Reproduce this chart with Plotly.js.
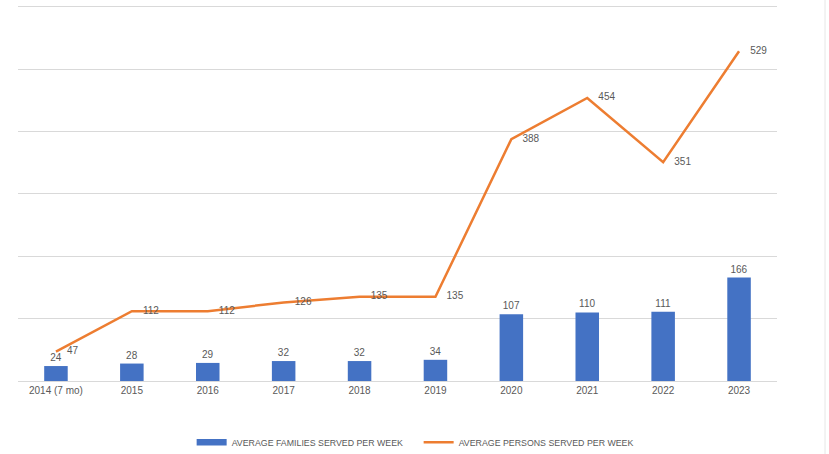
<!DOCTYPE html>
<html><head><meta charset="utf-8">
<script src="https://cdn.plot.ly/plotly-3.0.1.min.js"></script>
<style>html,body{margin:0;padding:0;background:#fff}#c{width:829px;height:454px}</style>
</head><body><div id="c"></div>
<script>
const years = ["2014 (7 mo)","2015","2016","2017","2018","2019","2020","2021","2022","2023"];
const families = [24,28,29,32,32,34,107,110,111,166];
const persons = [47,112,112,126,135,135,388,454,351,529];
const familiesName = "AVERAGE FAMILIES SERVED PER WEEK";
const personsName = "AVERAGE PERSONS SERVED PER WEEK";

const font = {family:"Liberation Sans, Arial, sans-serif", size:10, color:"#595959"};
const data = [
  {type:"bar", x:years, y:families, name:familiesName, marker:{color:"#4472C4"},
   width:0.31, text:families.map(String), textposition:"outside", cliponaxis:false,
   textfont:font, showlegend:false},
  {type:"scatter", mode:"lines+text", x:years, y:persons, name:personsName,
   line:{color:"#ED7D31", width:2.5}, text:persons.map(v=>"    "+v),
   textposition:"middle right", cliponaxis:false, textfont:font, showlegend:false},
  // legend entries
  {type:"scatter", mode:"lines", x:[null], y:[null], name:familiesName,
   line:{color:"#4472C4", width:6.5}, showlegend:true},
  {type:"scatter", mode:"lines", x:[null], y:[null], name:personsName,
   line:{color:"#ED7D31", width:2.5}, showlegend:true}
];
const layout = {
  width:829, height:454, margin:{l:18,r:52,t:1,b:73, autoexpand:false},
  paper_bgcolor:"#fff", plot_bgcolor:"#fff", font:font,
  xaxis:{type:"category", showgrid:false, showline:true, linecolor:"#d9d9d9", linewidth:1,
         ticks:"", tickfont:font, fixedrange:true, automargin:false},
  yaxis:{range:[0,609.6], tick0:0, dtick:100, showgrid:true, gridcolor:"#d9d9d9", gridwidth:1,
         showticklabels:false, zeroline:false, fixedrange:true, automargin:false},
  showlegend:true,
  legend:{orientation:"h", x:0.505, xanchor:"center", xref:"container", y:0.026, yanchor:"middle", yref:"container",
          font:{family:"Liberation Sans, Arial, sans-serif", size:8.8, color:"#595959"},
          itemwidth:30, entrywidth:182, entrywidthmode:"pixels", traceorder:"normal"},
  shapes:[{type:"line", xref:"paper", yref:"paper", x0:(825-18)/759, x1:(825-18)/759, y0:-1, y1:1.1,
           line:{color:"#e6e6e6", width:1}}]
};
Plotly.newPlot("c", data, layout, {displayModeBar:false, staticPlot:true});
</script></body></html>
